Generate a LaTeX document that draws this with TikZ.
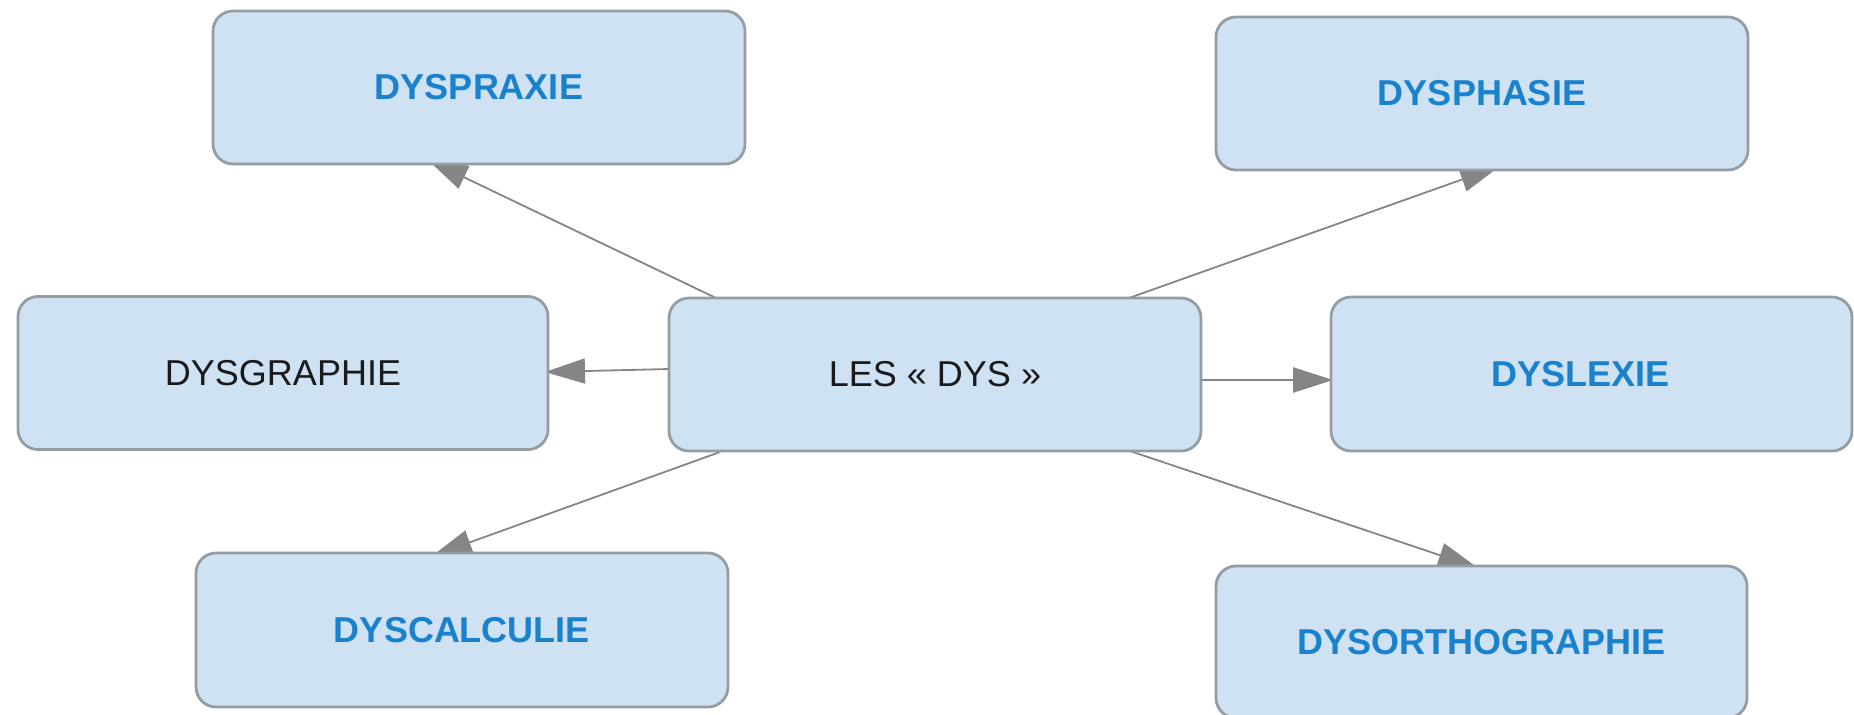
\documentclass[tikz,border=0pt]{standalone}
\usepackage{fontspec}
\setmainfont{Liberation Sans}
\usetikzlibrary{arrows.meta,calc}
\pgfdeclarelayer{bg}
\pgfsetlayers{bg,main}
\definecolor{boxfill}{HTML}{CFE2F3}
\definecolor{boxline}{HTML}{959DA3}
\definecolor{dysblue}{HTML}{1A82CD}
\definecolor{arrowgray}{HTML}{858585}
\definecolor{darktext}{HTML}{1A1A1A}
\begin{document}
\begin{tikzpicture}[x=0.5pt,y=-0.5pt,
  dysbox/.style={draw=boxline, line width=1.4pt, fill=boxfill, rounded corners=10pt,
    inner sep=0pt, minimum width=266pt, minimum height=76.5pt,
    text=darktext, font=\fontsize{18pt}{20pt}\selectfont},
  bluelabel/.style={text=dysblue, font=\fontsize{18pt}{20pt}\selectfont\bfseries},
  link/.style={draw=arrowgray, line width=0.9pt, -{Triangle[length=20pt,width=12.5pt]}}]
\useasboundingbox (0,0) rectangle (1854,714);
\clip (0,0) rectangle (1854,714);

\node[dysbox, bluelabel] (dyspraxie) at (479,87.5) {DYSPRAXIE};
\node[dysbox, bluelabel] (dysphasie) at (1482,93.5) {DYSPHASIE};
\node[dysbox, minimum width=265pt] (dysgraphie) at (283,373) {DYSGRAPHIE};
\node[dysbox] (les) at (935,374.5) {LES « DYS »};
\node[dysbox, bluelabel, minimum width=260.5pt, minimum height=77pt] (dyslexie) at (1591.5,374) {DYSLEXIE\hspace*{11pt}};
\node[dysbox, bluelabel, minimum height=77pt] (dyscalculie) at (462,630) {DYSCALCULIE};
\node[dysbox, bluelabel, minimum width=265.5pt, minimum height=76pt] (dysortho) at (1481.5,642) {DYSORTHOGRAPHIE};

\begin{pgfonlayer}{bg}
\draw[link] ($(les.center)+(-219,-76.5)$) -- ($(dyspraxie.center)+(-51,72.5)$);
\draw[link] ($(les.center)+(194,-76.5)$) -- ($(dysphasie.center)+(18,72.5)$);
\draw[link] ($(les.center)+(-266,-5.5)$) -- ($(dysgraphie.center)+(262,-1)$);
\draw[link, line width=1.3pt] ($(les.center)+(266,5.5)$) -- ($(dyslexie.center)+(-258.5,6)$);
\draw[link] ($(les.center)+(-215,77.5)$) -- ($(dyscalculie.center)+(-30,-74)$);
\draw[link] ($(les.center)+(192,75.5)$) -- ($(dysortho.center)+(-3.5,-74)$);
\end{pgfonlayer}
\end{tikzpicture}
\end{document}
